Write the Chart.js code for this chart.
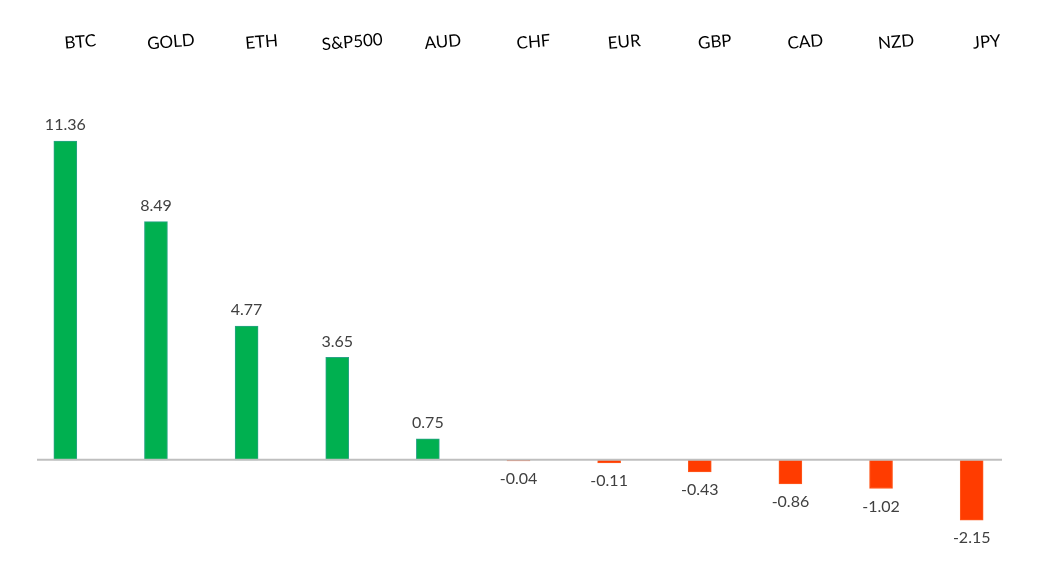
<!DOCTYPE html>
<html>
<head>
<meta charset="utf-8">
<script src="https://cdn.jsdelivr.net/npm/chart.js@4"></script>
<style>
  body { margin: 0; background: #fff; }
</style>
</head>
<body>
<canvas id="barChart" width="1047" height="579"></canvas>
<script>
// weekly change, %
const assets = ['BTC', 'GOLD', 'ETH', 'S&P500', 'AUD', 'CHF', 'EUR', 'GBP', 'CAD', 'NZD', 'JPY'];
const changes = [11.36, 8.49, 4.77, 3.65, 0.75, -0.04, -0.11, -0.43, -0.86, -1.02, -2.15];

const upColor = '#00b050';
const downColor = '#ff3c00';

// labels on top (tilted) + value labels + zero line
const labelsPlugin = {
  id: 'labels',
  afterDatasetsDraw(chart) {
    const ctx = chart.ctx;
    const x = chart.scales.x;
    const y = chart.scales.y;
    const area = chart.chartArea;
    const zero = y.getPixelForValue(0);

    ctx.save();
    ctx.strokeStyle = '#bfbfbf';
    ctx.lineWidth = 2;
    ctx.beginPath();
    ctx.moveTo(area.left + 17, zero);
    ctx.lineTo(area.right - 15, zero);
    ctx.stroke();

    ctx.fillStyle = '#404040';
    ctx.font = '16px Lato, "Liberation Sans", sans-serif';
    ctx.textAlign = 'center';
    changes.forEach((v, i) => {
      const px = x.getPixelForValue(i);
      const py = y.getPixelForValue(v);
      if (v >= 0) {
        ctx.textBaseline = 'bottom';
        ctx.fillText(v.toFixed(2), px, py - 8);
      } else {
        ctx.textBaseline = 'top';
        ctx.fillText(v.toFixed(2), px, py + 10);
      }
    });

    ctx.fillStyle = '#000';
    ctx.font = '17px Lato, "Liberation Sans", sans-serif';
    ctx.textBaseline = 'middle';
    assets.forEach((a, i) => {
      ctx.save();
      ctx.translate(x.getPixelForValue(i) + 15, 42);
      ctx.rotate(-5 * Math.PI / 180);
      ctx.fillText(a, 0, 0);
      ctx.restore();
    });
    ctx.restore();
  }
};

new Chart(document.getElementById('barChart'), {
  type: 'bar',
  data: {
    labels: assets,
    datasets: [{
      data: changes,
      backgroundColor: changes.map(v => v >= 0 ? upColor : downColor),
      borderColor: changes.map(v => v >= 0 ? '#2aa387' : '#ff5a1f'),
      borderWidth: 1,
      borderSkipped: false,
      barThickness: 23
    }]
  },
  options: {
    responsive: false,
    animation: false,
    layout: { padding: { left: 20, right: 30, top: 109, bottom: 49 } },
    plugins: {
      legend: { display: false },
      tooltip: { enabled: false }
    },
    scales: {
      x: { display: false },
      y: { display: false, min: -2.5, max: 12.5 }
    }
  },
  plugins: [labelsPlugin]
});
</script>
</body>
</html>
